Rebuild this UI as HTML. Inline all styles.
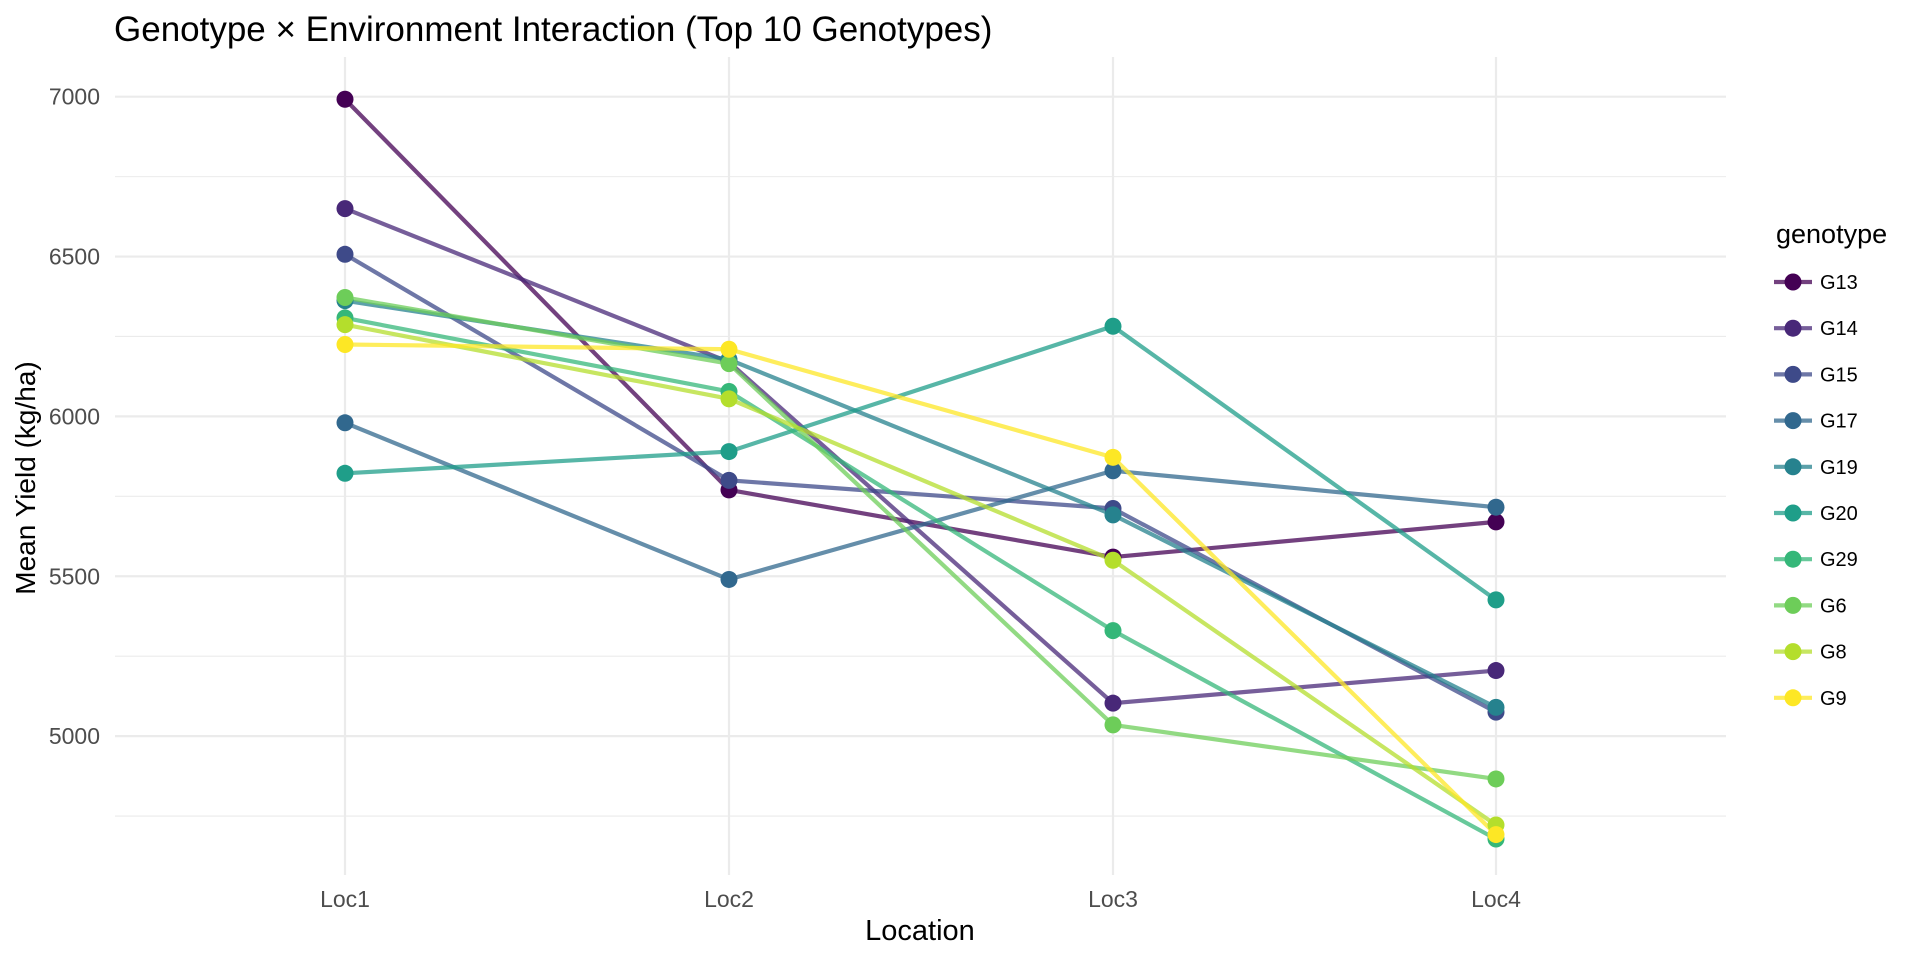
<!DOCTYPE html>
<html><head><meta charset="utf-8"><style>body{margin:0;background:#fff}svg{display:block}text{font-family:"Liberation Sans",Arial,sans-serif}</style></head><body>
<svg width="1920" height="960" xmlns="http://www.w3.org/2000/svg"></svg>
<script>
const ns="http://www.w3.org/2000/svg";
const svg=document.querySelector('svg');
function el(t,a,p){const e=document.createElementNS(ns,t);for(const k in a)e.setAttribute(k,a[k]);(p||svg).appendChild(e);return e;}
const L=115,R=1726,T=57,B=875;
const Y=v=>96.7+(7000-v)*0.3197;
const X=[345,729,1113,1496];
for(let v=4750;v<=7000;v+=250){const y=Y(v);el('line',{x1:L,x2:R,y1:y,y2:y,stroke:'#ebebeb','stroke-width':v%500==0?2.2:1.1});}
X.forEach(x=>el('line',{x1:x,x2:x,y1:T,y2:B,stroke:'#ebebeb','stroke-width':2.2}));
[5000,5500,6000,6500,7000].forEach(v=>{const t=el('text',{x:100,y:Y(v)+8,'text-anchor':'end','font-size':23,fill:'#4d4d4d'});t.textContent=v;});
['Loc1','Loc2','Loc3','Loc4'].forEach((s,i)=>{const t=el('text',{x:X[i],y:907,'text-anchor':'middle','font-size':23,fill:'#4d4d4d'});t.textContent=s;});
let t=el('text',{x:920,y:940,'text-anchor':'middle','font-size':29,fill:'#000'});t.textContent='Location';
t=el('text',{x:0,y:0,'text-anchor':'middle','font-size':28,fill:'#000',transform:'translate(35,478) rotate(-90)'});t.textContent='Mean Yield (kg/ha)';
t=el('text',{x:114,y:41,'font-size':35,fill:'#000'});t.textContent='Genotype × Environment Interaction (Top 10 Genotypes)';
const data=[
['G13','#440154',[6992,5770,5560,5670]],
['G14','#482878',[6650,6170,5103,5205]],
['G15','#3E4A89',[6507,5800,5712,5075]],
['G17','#31688E',[5980,5490,5830,5716]],
['G19','#26828E',[6362,6178,5692,5090]],
['G20','#1F9E89',[5822,5890,6282,5426]],
['G29','#35B779',[6308,6078,5330,4678]],
['G6','#6DCD59',[6372,6165,5035,4866]],
['G8','#B4DE2C',[6287,6055,5550,4722]],
['G9','#FDE725',[6225,6210,5872,4692]]];
data.forEach(d=>{el('polyline',{points:d[2].map((v,i)=>X[i]+','+Y(v)).join(' '),fill:'none',stroke:d[1],'stroke-opacity':0.75,'stroke-width':4.2});});
data.forEach(d=>{d[2].forEach((v,i)=>el('circle',{cx:X[i],cy:Y(v),r:8.5,fill:d[1]}));});
t=el('text',{x:1776,y:243,'font-size':27,fill:'#000'});t.textContent='genotype';
data.forEach((d,i)=>{const y=282+i*46.2;el('line',{x1:1774,x2:1812,y1:y,y2:y,stroke:d[1],'stroke-opacity':0.75,'stroke-width':4.2});el('circle',{cx:1793,cy:y,r:8.5,fill:d[1]});const tt=el('text',{x:1820,y:y+7,'font-size':20,fill:'#000'});tt.textContent=d[0];});
</script>
</body></html>
